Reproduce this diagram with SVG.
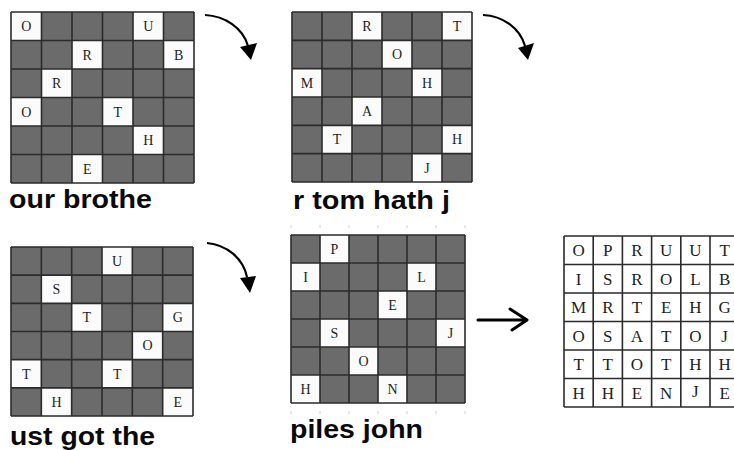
<svg xmlns="http://www.w3.org/2000/svg" width="734" height="450" viewBox="0 0 734 450">
<defs>
<style>
.bg{fill:#6b6b6b}
.w{fill:#fbfbfb}
.gl{fill:none;stroke:#2b2b2b;stroke-width:1.6}
.lt{font-family:"Liberation Serif","Times New Roman",serif;font-size:14px;fill:#1e1e1e;text-anchor:middle}
.ft{font-family:"Liberation Serif","Times New Roman",serif;font-size:17px;fill:#1e1e1e;text-anchor:middle}
.cap{font-family:"Liberation Sans",Arial,sans-serif;font-weight:bold;font-size:26px;fill:#0a0a0a}
.arc{fill:none;stroke:#000;stroke-width:2.2}
.ah{fill:#000}
.tick{fill:none;stroke:#d0d0d0;stroke-width:1}
</style>
</defs>
<rect width="734" height="450" fill="#ffffff"/>

<g id="grid1">
<rect class="bg" x="11" y="12" width="183" height="171"/>
<rect class="w" x="11" y="12" width="30.5" height="28.5"/>
<rect class="w" x="133" y="12" width="30.5" height="28.5"/>
<rect class="w" x="72" y="40.5" width="30.5" height="28.5"/>
<rect class="w" x="163.5" y="40.5" width="30.5" height="28.5"/>
<rect class="w" x="41.5" y="69" width="30.5" height="28.5"/>
<rect class="w" x="11" y="97.5" width="30.5" height="28.5"/>
<rect class="w" x="102.5" y="97.5" width="30.5" height="28.5"/>
<rect class="w" x="133" y="126" width="30.5" height="28.5"/>
<rect class="w" x="72" y="154.5" width="30.5" height="28.5"/>
<path class="gl" d="M11,12V183M41.5,12V183M72,12V183M102.5,12V183M133,12V183M163.5,12V183M194,12V183M11,12H194M11,40.5H194M11,69H194M11,97.5H194M11,126H194M11,154.5H194M11,183H194"/>
<text class="lt" x="26.25" y="31">O</text>
<text class="lt" x="148.25" y="31">U</text>
<text class="lt" x="87.25" y="59.5">R</text>
<text class="lt" x="178.75" y="59.5">B</text>
<text class="lt" x="56.75" y="88">R</text>
<text class="lt" x="26.25" y="116.5">O</text>
<text class="lt" x="117.75" y="116.5">T</text>
<text class="lt" x="148.25" y="145">H</text>
<text class="lt" x="87.25" y="173.5">E</text>
</g>
<g id="label1"><text class="cap" x="9" y="208" textLength="143" lengthAdjust="spacingAndGlyphs">our brothe</text></g>

<g id="grid2">
<rect class="bg" x="292" y="12" width="180" height="170"/>
<rect class="w" x="352" y="12" width="30" height="28.33"/>
<rect class="w" x="442" y="12" width="30" height="28.33"/>
<rect class="w" x="382" y="40.33" width="30" height="28.33"/>
<rect class="w" x="292" y="68.67" width="30" height="28.33"/>
<rect class="w" x="412" y="68.67" width="30" height="28.33"/>
<rect class="w" x="352" y="97" width="30" height="28.33"/>
<rect class="w" x="322" y="125.33" width="30" height="28.33"/>
<rect class="w" x="442" y="125.33" width="30" height="28.33"/>
<rect class="w" x="412" y="153.67" width="30" height="28.33"/>
<path class="gl" d="M292,12V182M322,12V182M352,12V182M382,12V182M412,12V182M442,12V182M472,12V182M292,12H472M292,40.33H472M292,68.67H472M292,97H472M292,125.33H472M292,153.67H472M292,182H472"/>
<text class="lt" x="367" y="31">R</text>
<text class="lt" x="457" y="31">T</text>
<text class="lt" x="397" y="59.3">O</text>
<text class="lt" x="307" y="87.6">M</text>
<text class="lt" x="427" y="87.6">H</text>
<text class="lt" x="367" y="116">A</text>
<text class="lt" x="337" y="144.3">T</text>
<text class="lt" x="457" y="144.3">H</text>
<text class="lt" x="427" y="172.6">J</text>
</g>
<g id="label2"><text class="cap" x="293" y="209" textLength="157" lengthAdjust="spacingAndGlyphs">r tom hath j</text></g>

<g id="grid3">
<rect class="bg" x="11" y="247" width="182" height="169"/>
<rect class="w" x="102" y="247" width="30.33" height="28.17"/>
<rect class="w" x="41.33" y="275.17" width="30.33" height="28.17"/>
<rect class="w" x="71.67" y="303.33" width="30.33" height="28.17"/>
<rect class="w" x="162.67" y="303.33" width="30.33" height="28.17"/>
<rect class="w" x="132.33" y="331.5" width="30.33" height="28.17"/>
<rect class="w" x="11" y="359.67" width="30.33" height="28.17"/>
<rect class="w" x="102" y="359.67" width="30.33" height="28.17"/>
<rect class="w" x="41.33" y="387.83" width="30.33" height="28.17"/>
<rect class="w" x="162.67" y="387.83" width="30.33" height="28.17"/>
<path class="gl" d="M11,247V416M41.33,247V416M71.67,247V416M102,247V416M132.33,247V416M162.67,247V416M193,247V416M11,247H193M11,275.17H193M11,303.33H193M11,331.5H193M11,359.67H193M11,387.83H193M11,416H193"/>
<text class="lt" x="117.17" y="266">U</text>
<text class="lt" x="56.5" y="294.1">S</text>
<text class="lt" x="86.83" y="322.2">T</text>
<text class="lt" x="177.83" y="322.2">G</text>
<text class="lt" x="147.5" y="350.4">O</text>
<text class="lt" x="26.17" y="378.6">T</text>
<text class="lt" x="117.17" y="378.6">T</text>
<text class="lt" x="56.5" y="406.7">H</text>
<text class="lt" x="177.83" y="406.7">E</text>
</g>
<g id="label3"><text class="cap" x="10" y="445" textLength="145" lengthAdjust="spacingAndGlyphs">ust got the</text></g>

<g id="grid4">
<rect class="bg" x="291" y="235" width="174" height="168"/>
<rect class="w" x="320" y="235" width="29" height="28"/>
<rect class="w" x="291" y="263" width="29" height="28"/>
<rect class="w" x="407" y="263" width="29" height="28"/>
<rect class="w" x="378" y="291" width="29" height="28"/>
<rect class="w" x="320" y="319" width="29" height="28"/>
<rect class="w" x="436" y="319" width="29" height="28"/>
<rect class="w" x="349" y="347" width="29" height="28"/>
<rect class="w" x="291" y="375" width="29" height="28"/>
<rect class="w" x="378" y="375" width="29" height="28"/>
<path class="gl" d="M291,235V403M320,235V403M349,235V403M378,235V403M407,235V403M436,235V403M465,235V403M291,235H465M291,263H465M291,291H465M291,319H465M291,347H465M291,375H465M291,403H465"/>
<path class="tick" d="M291,411V414M320,411V414M349,411V414M378,411V414M407,411V414M436,411V414M465,411V414M291,225V228M320,225V228M349,225V228M378,225V228M407,225V228M436,225V228M465,225V228"/>
<text class="lt" x="334.5" y="254">P</text>
<text class="lt" x="305.5" y="282">I</text>
<text class="lt" x="421.5" y="282">L</text>
<text class="lt" x="392.5" y="310">E</text>
<text class="lt" x="334.5" y="338">S</text>
<text class="lt" x="450.5" y="338">J</text>
<text class="lt" x="363.5" y="366">O</text>
<text class="lt" x="305.5" y="394">H</text>
<text class="lt" x="392.5" y="394">N</text>
</g>
<g id="label4"><text class="cap" x="290" y="438" textLength="133" lengthAdjust="spacingAndGlyphs">piles john</text></g>

<g id="grid5">
<rect x="564" y="236" width="175.2" height="171" fill="#ffffff"/>
<path class="gl" d="M564,236V407M593.2,236V407M622.4,236V407M651.6,236V407M680.8,236V407M710,236V407M739.2,236V407M564,236H739.2M564,264.5H739.2M564,293H739.2M564,321.5H739.2M564,350H739.2M564,378.5H739.2M564,407H739.2"/>
<g class="ft">
<text x="578.6" y="256.3">O</text><text x="607.8" y="256.3">P</text><text x="637" y="256.3">R</text><text x="666.2" y="256.3">U</text><text x="695.4" y="256.3">U</text><text x="724.6" y="256.3">T</text>
<text x="578.6" y="284.8">I</text><text x="607.8" y="284.8">S</text><text x="637" y="284.8">R</text><text x="666.2" y="284.8">O</text><text x="695.4" y="284.8">L</text><text x="724.6" y="284.8">B</text>
<text x="578.6" y="313.3">M</text><text x="607.8" y="313.3">R</text><text x="637" y="313.3">T</text><text x="666.2" y="313.3">E</text><text x="695.4" y="313.3">H</text><text x="724.6" y="313.3">G</text>
<text x="578.6" y="341.8">O</text><text x="607.8" y="341.8">S</text><text x="637" y="341.8">A</text><text x="666.2" y="341.8">T</text><text x="695.4" y="341.8">O</text><text x="724.6" y="341.8">J</text>
<text x="578.6" y="370.3">T</text><text x="607.8" y="370.3">T</text><text x="637" y="370.3">O</text><text x="666.2" y="370.3">T</text><text x="695.4" y="370.3">H</text><text x="724.6" y="370.3">H</text>
<text x="578.6" y="398.8">H</text><text x="607.8" y="398.8">H</text><text x="637" y="398.8">E</text><text x="666.2" y="398.8">N</text><text x="695.4" y="396.5">J</text><text x="724.6" y="398.8">E</text>
</g>
</g>

<g id="connectors">
<path class="arc" d="M205,15 C225,16 243,28 248,46"/>
<polygon class="ah" points="240,47 257,43 251,60"/>
<path class="arc" d="M483,15 C503,16 520,28 525,46"/>
<polygon class="ah" points="518,48 534,43 528,60"/>
<path class="arc" d="M207,243 C227,245 243,258 247,277"/>
<polygon class="ah" points="240,278 256,276 250,293"/>
<path d="M478,320H526M510,309L527,320L512,330" fill="none" stroke="#000" stroke-width="3" stroke-linecap="round" stroke-linejoin="round"/>
</g>
</svg>
